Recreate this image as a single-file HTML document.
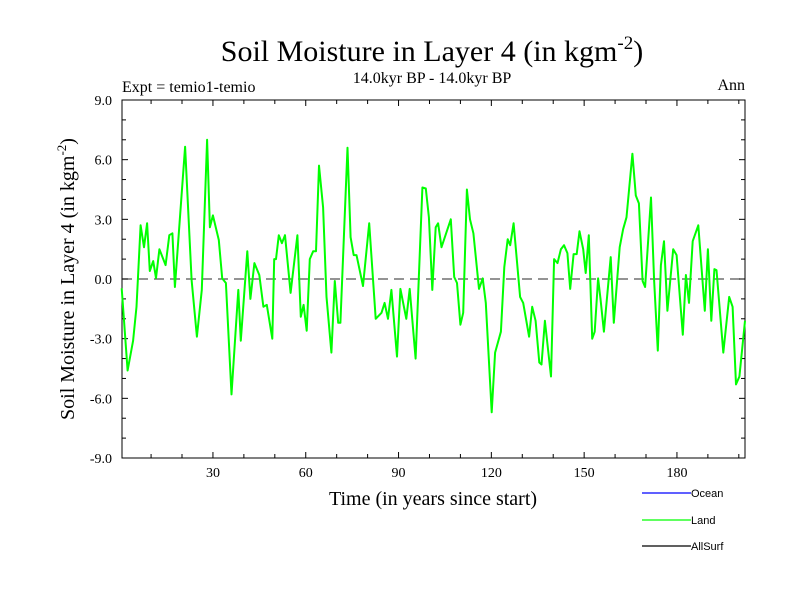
<!DOCTYPE html>
<html><head><meta charset="utf-8"><style>
body{margin:0;background:#fff;}
svg{display:block;font-family:"Liberation Serif",serif;}
</style></head><body>
<svg id="chart" width="800" height="600" viewBox="0 0 800 600">
<rect width="800" height="600" fill="#fff"/>
<text x="432" y="61" text-anchor="middle" font-size="30">Soil Moisture in Layer 4 (in kgm<tspan font-size="19" dy="-12">-2</tspan><tspan dy="12">)</tspan></text>
<text x="432" y="83" text-anchor="middle" font-size="16">14.0kyr BP - 14.0kyr BP</text>
<text x="122" y="92" font-size="16">Expt = temio1-temio</text>
<text x="745" y="90" text-anchor="end" font-size="16">Ann</text>
<text transform="translate(74,279) rotate(-90)" text-anchor="middle" font-size="20">Soil Moisture in Layer 4 (in kgm<tspan font-size="13" dy="-8">-2</tspan><tspan dy="8">)</tspan></text>
<text x="433" y="505" text-anchor="middle" font-size="20">Time (in years since start)</text>
<g id="axes"></g>
<g id="series"></g>
<g font-family="Liberation Sans, sans-serif" font-size="11">
<g><line x1="642" y1="493" x2="691" y2="493" stroke="#0000ff" stroke-width="1.3"/><text x="691" y="497">Ocean</text></g>
<g><line x1="642" y1="520" x2="691" y2="520" stroke="#00ff00" stroke-width="1.3"/><text x="691" y="524">Land</text></g>
<g><line x1="642" y1="546" x2="691" y2="546" stroke="#000" stroke-width="1.3"/><text x="691" y="550">AllSurf</text></g>
</g>
</svg>
<script>
const years=[0.5,2.4,4.2,5.3,6.6,7.7,8.7,9.6,10.7,11.6,12.7,14.7,15.9,16.9,17.7,21.0,23.1,24.8,26.4,28.1,29.0,30.0,31.9,33.0,34.2,36.0,38.2,39.0,41.1,42.1,43.4,45.0,46.3,47.4,49.2,49.8,50.4,51.3,52.3,53.3,55.1,57.3,58.4,59.3,60.3,61.3,62.4,63.3,64.3,65.6,66.7,68.3,69.4,70.5,71.2,73.5,74.5,75.5,76.4,78.5,80.5,82.6,84.5,85.5,86.6,87.7,89.5,90.6,92.5,93.6,95.5,97.7,98.8,99.8,100.9,102.0,102.8,103.9,106.9,108.0,108.9,110.0,110.9,112.1,113.1,114.2,116.0,117.2,118.2,120.1,121.2,123.1,124.2,125.3,126.1,127.2,129.3,130.3,132.2,133.2,134.3,135.5,136.2,137.3,139.3,140.3,141.4,142.5,143.5,144.6,145.5,146.6,147.6,148.5,149.7,150.5,151.5,152.6,153.4,154.5,155.3,156.4,158.6,159.6,161.5,162.6,163.7,165.6,166.7,167.7,168.9,169.7,171.6,172.6,173.8,174.8,175.8,176.9,178.8,179.9,181.9,182.9,183.9,185.1,186.9,189.0,190.0,191.1,192.1,192.8,195.0,196.9,198.0,199.1,200.2,202.0];
const landValues=[-0.47,-4.6,-3.1,-1.4,2.7,1.6,2.8,0.4,0.9,0.05,1.5,0.7,2.2,2.3,-0.4,6.65,-0.05,-2.9,-0.55,7.0,2.6,3.2,1.96,0.03,-0.2,-5.8,-0.55,-3.1,1.4,-1.0,0.8,0.2,-1.4,-1.3,-3.0,1.0,1.0,2.2,1.8,2.2,-0.7,2.2,-1.9,-1.3,-2.6,1.0,1.4,1.4,5.7,3.6,-0.9,-3.7,-0.1,-2.2,-2.2,6.6,2.1,1.2,1.2,-0.35,2.8,-2.0,-1.7,-1.2,-2.0,-0.55,-3.9,-0.5,-2.0,-0.5,-4.0,4.6,4.55,3.1,-0.55,2.6,2.8,1.6,3.0,0.1,-0.2,-2.3,-1.7,4.5,3.0,2.3,-0.5,0.03,-1.2,-6.7,-3.7,-2.65,0.6,2.0,1.7,2.8,-0.9,-1.2,-2.9,-1.4,-2.1,-4.2,-4.3,-2.1,-4.9,1.0,0.8,1.5,1.7,1.3,-0.5,1.25,1.25,2.4,1.5,0.3,2.2,-3.0,-2.65,0.03,-1.0,-2.65,1.1,-2.2,1.6,2.5,3.1,6.3,4.2,3.8,-0.1,-0.4,4.1,-0.05,-3.6,0.7,1.9,-1.6,1.5,1.2,-2.8,0.2,-1.2,1.9,2.7,-1.6,1.5,-2.1,0.5,0.45,-3.7,-0.9,-1.4,-5.3,-4.9,-2.1];
const yTicks=[-9,-6,-3,0,3,6,9];
const yTickLabels=["-9.0","-6.0","-3.0","0.0","3.0","6.0","9.0"];
const xTicks=[30,60,90,120,150,180];
const xTickLabels=["30","60","90","120","150","180"];
const X0=122,X1=745,Y0=100,Y1=458,XMIN=0.6,XMAX=202,YMIN=-9,YMAX=9;
function sx(v){return X0+(v-XMIN)/(XMAX-XMIN)*(X1-X0);}
function sy(v){return Y1-(v-YMIN)/(YMAX-YMIN)*(Y1-Y0);}
const NS="http://www.w3.org/2000/svg";
function mk(tag,attrs,parent){const e=document.createElementNS(NS,tag);for(const k in attrs)e.setAttribute(k,attrs[k]);parent.appendChild(e);return e;}
const axes=document.getElementById('axes');
const frame=mk('rect',{x:X0,y:Y0,width:X1-X0,height:Y1-Y0,fill:'none',stroke:'#000','stroke-width':1},axes);


const zl=mk('line',{x1:X0,x2:X1,y1:sy(0),y2:sy(0),stroke:'#555','stroke-width':1.3,'stroke-dasharray':'10,6'},axes);


for(let v=-9;v<=9;v++){const y=sy(v);const len=(v%3===0)?6:4;
 mk('line',{x1:X0,x2:X0+len,y1:y,y2:y,stroke:'#000'},axes);
 mk('line',{x1:X1,x2:X1-len,y1:y,y2:y,stroke:'#000'},axes);}
yTicks.forEach((v,i)=>{const t=mk('text',{x:112,y:sy(v)+5,'text-anchor':'end','font-size':14},axes);t.textContent=yTickLabels[i];
 
 });
for(let v=10;v<=200;v+=10){const x=sx(v);const len=(v%30===0)?6:4;
 mk('line',{x1:x,x2:x,y1:Y1,y2:Y1-len,stroke:'#000'},axes);
 mk('line',{x1:x,x2:x,y1:Y0,y2:Y0+len,stroke:'#000'},axes);}
xTicks.forEach((v,i)=>{const t=mk('text',{x:sx(v),y:477,'text-anchor':'middle','font-size':14},axes);t.textContent=xTickLabels[i];
 
 });
const pts=years.map((y,i)=>sx(y).toFixed(1)+','+sy(landValues[i]).toFixed(1)).join(' ');
const line=mk('polyline',{points:pts,fill:'none',stroke:'#00ff00','stroke-width':2,'stroke-linejoin':'round'},document.getElementById('series'));


</script>
</body></html>
